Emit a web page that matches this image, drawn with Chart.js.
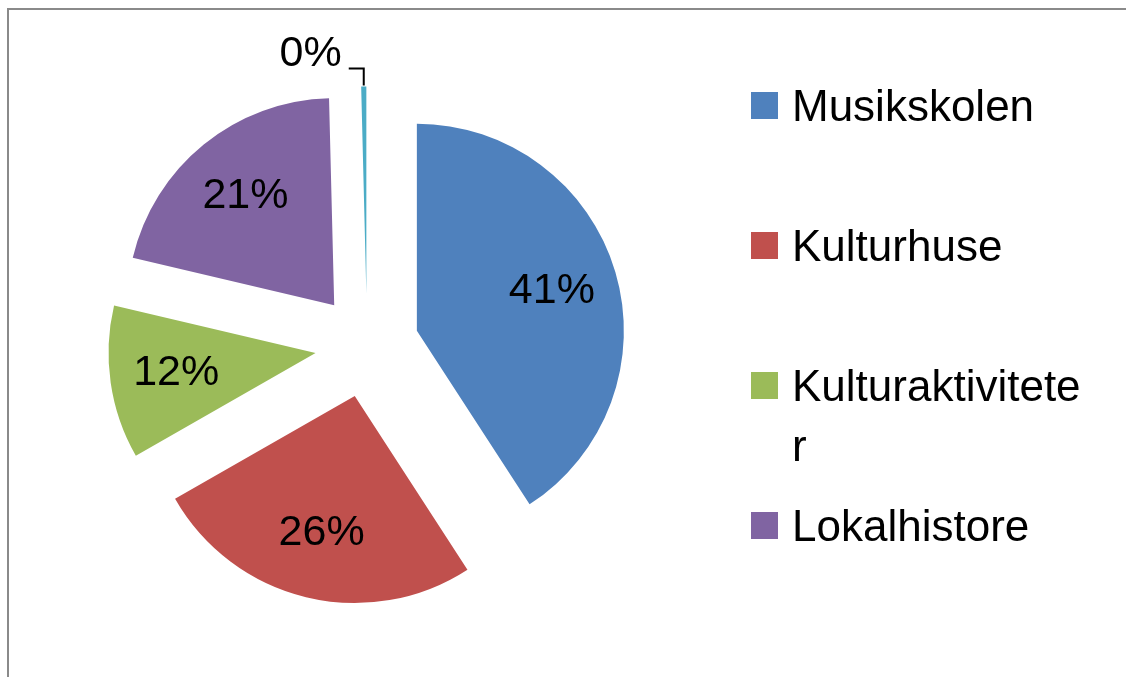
<!DOCTYPE html>
<html>
<head>
<meta charset="utf-8">
<script src="https://cdn.jsdelivr.net/npm/chart.js@4/dist/chart.umd.min.js"></script>
<style>
    html, body { margin: 0; padding: 0; background: #fff; }
    #wrap { position: relative; width: 1126px; height: 677px; overflow: hidden; }
    #frame { position: absolute; left: 7px; top: 8px; width: 1200px; height: 800px;
             border-left: 2px solid #8a8a8a; border-top: 2px solid #8a8a8a; }
    #pieChart { position: absolute; left: 0; top: 0; }
    #legend { position: absolute; left: 751px; top: 76px; font-family: "Liberation Sans", Arial, sans-serif; }
    .item { display: flex; align-items: flex-start; height: 140px; }
    .box { width: 27px; height: 27px; margin-top: 16px; margin-right: 14px; flex: none; }
    .txt { font-size: 44px; line-height: 60px; width: 300px; word-break: break-all; color: #000; }
</style>
</head>
<body>
<div id="wrap">
    <div id="frame"></div>
    <canvas id="pieChart" width="1126" height="677"></canvas>
    <div id="legend"></div>
</div>
<script>
// data
var labels = ["Musikskolen", "Kulturhuse", "Kulturaktiviteter", "Lokalhistore", ""];
var values = [41, 26, 12, 21, 0.4];
var colors = ["#4F81BD", "#C0504D", "#9BBB59", "#8064A2", "#4BACC6"];

var explode = 52;   // how far every slice is pulled out
var pieRadius = 207;

// pull each slice out from the centre along its middle angle
var explodePlugin = {
    id: "explode",
    afterDatasetsUpdate: function (chart) {
        var arcs = chart.getDatasetMeta(0).data;
        for (var i = 0; i < arcs.length; i++) {
            var a = arcs[i];
            var mid = (a.startAngle + a.endAngle) / 2;
            a.x = a.x + Math.cos(mid) * explode;
            a.y = a.y + Math.sin(mid) * explode;
        }
    }
};

// percent labels, small ones outside with a leader line
var percentPlugin = {
    id: "percent",
    afterDatasetsDraw: function (chart) {
        var ctx = chart.ctx;
        var arcs = chart.getDatasetMeta(0).data;
        var total = 0;
        for (var i = 0; i < values.length; i++) total += values[i];
        ctx.save();
        ctx.font = "43px 'Liberation Sans', Arial, sans-serif";
        ctx.fillStyle = "#000";
        for (var i = 0; i < arcs.length; i++) {
            var a = arcs[i];
            var mid = (a.startAngle + a.endAngle) / 2;
            var share = values[i] / total;
            var txt = Math.round(share * 100) + "%";
            if (share > 0.02) {
                var r = a.outerRadius * 0.68;
                ctx.textAlign = "center";
                ctx.textBaseline = "middle";
                ctx.fillText(txt, a.x + Math.cos(mid) * r, a.y + Math.sin(mid) * r);
            } else {
                var tx = a.x + Math.cos(mid) * (a.outerRadius + 1);
                var ty = a.y + Math.sin(mid) * (a.outerRadius + 1);
                ctx.strokeStyle = "#000";
                ctx.lineWidth = 2;
                ctx.beginPath();
                ctx.moveTo(tx, ty);
                ctx.lineTo(tx, ty - 17);
                ctx.lineTo(tx - 15, ty - 17);
                ctx.stroke();
                ctx.textAlign = "right";
                ctx.textBaseline = "alphabetic";
                ctx.fillText(txt, tx - 22, ty - 20);
            }
        }
        ctx.restore();
    }
};

var pieCanvas = document.getElementById("pieChart").getContext("2d");
var pieChart = new Chart(pieCanvas, {
    type: "pie",
    data: {
        labels: labels,
        datasets: [{
            data: values,
            backgroundColor: colors,
            borderWidth: 0
        }]
    },
    options: {
        responsive: false,
        animation: false,
        radius: pieRadius,
        layout: { padding: { left: 10, right: 402, top: 21, bottom: 7 } },
        plugins: {
            legend: { display: false },
            tooltip: { enabled: false }
        }
    },
    plugins: [explodePlugin, percentPlugin]
});

// legend on the right, only named entries
var legendHtml = "";
for (var i = 0; i < labels.length; i++) {
    if (labels[i] == "") continue;
    legendHtml += "<div class=\"item\"><span class=\"box\" style=\"background:" + colors[i] +
        "\"></span><span class=\"txt\">" + labels[i] + "</span></div>";
}
document.getElementById("legend").innerHTML = legendHtml;
</script>
</body>
</html>
